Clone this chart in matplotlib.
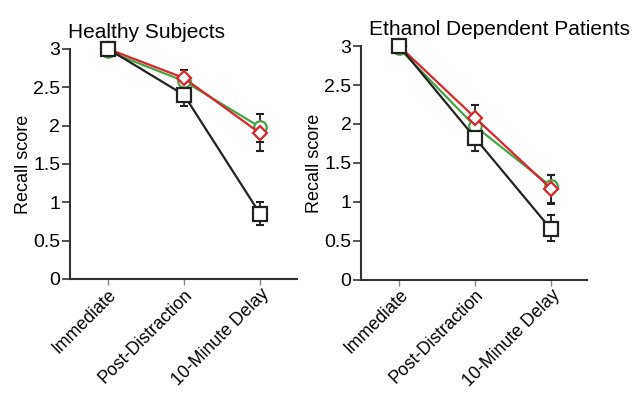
import matplotlib.pyplot as plt
import matplotlib.transforms as mtransforms
import numpy as np

plt.rcParams['font.family'] = ['Liberation Sans', 'DejaVu Sans']

conditions = ["Immediate", "Post-Distraction", "10-Minute Delay"]
titles = ["Healthy Subjects", "Ethanol Dependent Patients"]

# healthy subjects
h_black = [3.0, 2.4, 0.85]
h_black_lo = [0, 0.15, 0.15]
h_black_hi = [0, 0, 0.15]
h_green = [2.97, 2.58, 1.98]
h_green_lo = [0, 0, 0.2]
h_green_hi = [0, 0, 0.17]
h_red = [3.0, 2.62, 1.9]
h_red_lo = [0, 0, 0.23]
h_red_hi = [0, 0.11, 0]

# ethanol dependent patients
e_black = [3.0, 1.82, 0.65]
e_black_lo = [0, 0.17, 0.15]
e_black_hi = [0, 0, 0.18]
e_green = [2.97, 1.97, 1.2]
e_green_lo = [0, 0, 0.22]
e_green_hi = [0, 0, 0.15]
e_red = [3.0, 2.08, 1.17]
e_red_lo = [0, 0, 0.2]
e_red_hi = [0, 0.16, 0.18]

panels = [
    [(h_green, h_green_lo, h_green_hi), (h_red, h_red_lo, h_red_hi), (h_black, h_black_lo, h_black_hi)],
    [(e_green, e_green_lo, e_green_hi), (e_red, e_red_lo, e_red_hi), (e_black, e_black_lo, e_black_hi)],
]
styles = [
    dict(color="#45a345", marker="o", ms=9),
    dict(color="#d8262a", marker="D", ms=7.5),
    dict(color="#222222", marker="s", ms=10),
]

fig = plt.figure(figsize=(6.35, 3.94), dpi=100)
rects = [[0.110, 0.292, 0.357, 0.584], [0.569, 0.290, 0.356, 0.593]]
x = np.arange(3)
shift = mtransforms.ScaledTranslation(12 / 72, 0, fig.dpi_scale_trans)

for i, rect in enumerate(rects):
    ax = fig.add_axes(rect)
    for z, ((vals, lo, hi), st) in enumerate(zip(panels[i], styles)):
        ax.errorbar(x, vals, yerr=[lo, hi], fmt="none", ecolor="#222222",
                    elinewidth=1.3, capsize=3, capthick=1.5, zorder=2 + z)
        ax.plot(x, vals, color=st["color"], lw=1.6, marker=st["marker"],
                ms=st["ms"], mfc="white", mec=st["color"], mew=1.6,
                zorder=5 + z, clip_on=False)
    ax.set_xlim(-0.5, 2.48)
    ax.set_ylim(0, 3)
    ax.set_yticks([0, 0.5, 1, 1.5, 2, 2.5, 3])
    ax.set_yticklabels(["0", "0.5", "1", "1.5", "2", "2.5", "3"], fontsize=14)
    ax.set_xticks(x)
    ax.set_xticklabels(conditions, rotation=45, ha="right", rotation_mode="anchor", fontsize=12.8)
    for lab in ax.get_xticklabels():
        lab.set_transform(lab.get_transform() + shift)
    ax.set_ylabel("Recall score", fontsize=13, labelpad=1)
    for s in ["top", "right"]:
        ax.spines[s].set_visible(False)
    for s in ["left", "bottom"]:
        ax.spines[s].set_linewidth(1.5)
        ax.spines[s].set_color("#333333")
    ax.tick_params(axis="y", length=6, width=1.2, pad=1, color="#333333")
    ax.tick_params(axis="x", length=4, width=1, pad=1, color="#888888")
    ax.set_title(titles[i], fontsize=15, loc="left", pad=8, x=-0.01 if i == 0 else 0.035)

fig.savefig("out.png", dpi=100)
